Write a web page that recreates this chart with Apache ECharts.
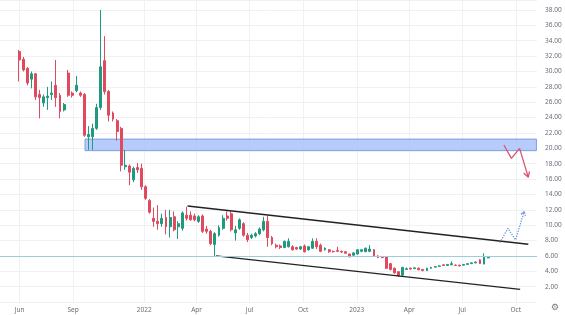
<!DOCTYPE html>
<html><head><meta charset="utf-8">
<script src="https://cdn.jsdelivr.net/npm/echarts@6/dist/echarts.min.js"></script>
<style>html,body{margin:0;padding:0;background:#fff}#c{width:565px;height:315px}</style>
</head><body><div id="c"></div>
<script>
// weekly candles starting Monday 2021-05-31
const firstWeek = [2021, 4, 31];
const opens = [
32.6,31.6,30.4,29.0,29.7,27.0,25.9,26.6,27.0,28.2,
26.9,25.0,29.8,27.2,27.5,27.2,27.0,21.5,21.5,22.6,
25.3,31.4,27.4,24.6,23.6,22.6,17.6,17.7,15.9,17.5,
17.4,15.0,13.2,10.9,10.5,10.2,11.0,9.8,11.1,9.8,
9.6,11.3,11.3,11.2,10.5,11.2,9.5,9.2,7.5,8.7,
9.6,11.2,11.5,9.0,9.6,10.2,8.7,8.4,8.6,8.9,
9.4,10.5,8.4,7.4,7.3,7.1,7.2,7.2,7.1,6.9,
7.3,6.8,7.0,7.9,7.4,6.8,6.8,6.6,6.7,6.6,
6.55,6.25,6.1,6.25,6.6,6.55,6.6,6.8,6.0,5.9,
5.9,5.0,4.4,3.95,3.5,4.25,4.4,4.35,4.4,4.25,
4.1,4.4,4.55,4.65,4.85,4.75,4.85,4.8,4.8,4.8,
4.9,5.0,5.1,5.5,4.95,5.75];
const closes = [
31.5,30.2,28.5,29.7,26.7,26.6,26.7,26.8,27.2,26.6,
24.8,25.7,26.9,26.9,28.2,26.9,21.7,21.8,22.6,25.3,
30.6,27.4,24.3,23.8,22.2,17.8,17.8,16.9,17.4,17.2,
15.0,13.5,11.7,10.5,10.2,10.9,9.8,11.0,9.4,10.2,
11.6,10.9,10.7,10.7,11.1,9.2,9.2,7.6,8.9,9.7,
10.9,10.9,9.4,9.4,10.7,8.7,8.1,8.7,8.9,9.5,
10.5,8.4,7.6,7.2,7.1,7.9,7.9,6.8,6.9,7.2,
6.55,7.2,7.9,7.2,6.6,7.0,6.55,6.55,6.6,6.5,
6.35,5.9,6.4,6.8,6.8,7.0,6.9,6.0,5.8,5.8,
4.4,4.25,3.8,3.4,4.5,4.35,4.3,4.45,4.2,4.1,
4.4,4.5,4.6,4.7,4.75,4.9,5.0,4.75,4.7,4.9,
5.0,5.1,5.2,5.0,5.9,5.9];
const lows = [
28.7,30.0,28.2,27.8,26.3,23.9,25.4,25.0,26.3,25.4,
23.9,24.8,26.7,26.6,27.3,26.7,21.5,19.8,19.8,22.4,
25.0,27.0,23.5,23.5,21.0,17.0,17.2,15.2,15.6,16.8,
14.6,13.3,11.5,9.8,9.4,9.8,8.8,8.4,9.2,8.2,
9.3,10.6,10.6,10.5,10.3,9.0,8.9,7.4,6.0,8.5,
9.4,10.6,9.2,8.0,9.4,8.5,7.8,8.2,8.4,8.7,
9.2,7.2,7.4,7.0,6.9,7.0,7.1,6.7,6.8,6.8,
6.45,6.7,6.9,6.9,6.5,6.7,6.4,6.45,6.5,6.4,
6.3,5.8,6.0,6.2,6.5,6.5,6.5,5.9,5.7,5.7,
4.3,4.1,3.7,3.3,3.4,4.2,4.2,4.3,4.15,4.0,
4.05,4.35,4.5,4.6,4.7,4.7,4.8,4.7,4.65,4.75,
4.85,4.95,5.05,4.95,4.9,5.7];
const highs = [
32.8,31.9,30.6,30.0,29.8,27.6,27.0,28.0,28.7,31.5,
27.2,25.9,30.2,27.4,29.4,27.4,27.2,22.9,23.2,25.8,
38.0,34.6,27.6,24.8,23.8,22.8,19.8,17.9,17.6,18.1,
18.0,15.2,13.4,12.3,12.6,11.5,12.0,12.0,11.8,10.5,
11.8,12.4,11.8,11.5,11.3,11.4,9.9,9.4,9.1,10.0,
11.3,11.8,11.8,9.9,10.9,10.4,9.0,8.9,9.1,9.7,
11.1,11.2,8.6,7.6,7.5,8.0,8.3,7.4,7.2,7.3,
7.5,7.3,8.3,8.3,7.6,7.1,6.9,6.7,7.2,6.7,
6.6,6.3,6.5,6.9,6.9,7.1,7.4,6.9,6.1,6.0,
6.0,5.1,4.5,4.0,4.6,4.5,4.5,4.5,4.5,4.3,
4.45,4.6,4.7,4.8,4.9,4.95,5.3,4.9,4.85,4.95,
5.05,5.15,5.3,5.6,6.35,5.95];

const tickDates = ['2021-06-01','2021-09-01','2022-01-01','2022-04-01','2022-07-01','2022-10-01','2023-01-01','2023-04-01','2023-07-01','2023-10-01'];
const tickNames = ['Jun','Sep','2022','Apr','Jul','Oct','2023','Apr','Jul','Oct'];

const zoneStart = '2021-09-21', zoneLow = 19.7, zoneHigh = 21.2;
const upperDates = ['2022-03-16','2023-10-22'], upperPrices = [12.5, 7.52];
const lowerDates = ['2022-05-04','2023-10-08'], lowerPrices = [6.0, 1.66];
const bearDates = ['2023-09-10','2023-09-23','2023-10-07','2023-10-22','2023-10-24','2023-10-22','2023-10-14'];
const bearPrices = [20.44, 18.7, 20.0, 16.23, 17.0, 16.23, 16.78];
const bullDates = ['2023-09-03','2023-09-17','2023-09-30','2023-10-15','2023-10-09','2023-10-15','2023-10-17'];
const bullPrices = [7.72, 9.6, 8.08, 11.78, 11.41, 11.78, 11.21];
const lastPrice = 5.95;
const xStart = '2021-04-28T12:00:00Z', xEnd = '2023-11-06T10:00:00Z';
const yMin = 0, yMax = 39.3, yStep = 2, yTopLabel = 38;

const T = s => Date.parse(s.length === 10 ? s + 'T12:00:00Z' : s);
const WEEK = 7 * 86400000;
const t0 = Date.UTC(firstWeek[0], firstWeek[1], firstWeek[2], 12);
const candles = opens.map((o, i) => [t0 + i * WEEK, o, closes[i], lows[i], highs[i]]);
const tickTimes = tickDates.map(d => Date.parse(d + 'T00:00:00Z'));
const pair = (ds, ps) => ds.map((d, i) => [T(d), ps[i]]);

const UP = '#1f9a80', DOWN = '#e04a5e';
const chart = echarts.init(document.getElementById('c'), null, {renderer: 'canvas'});
chart.setOption({
  animation: false,
  backgroundColor: '#ffffff',
  grid: {left: 0, right: 28, top: 0, bottom: 12.93, containLabel: false},
  xAxis: {
    type: 'value', min: T(xStart), max: T(xEnd), scale: true,
    axisLine: {show: false},
    axisTick: {show: false, customValues: tickTimes},
    axisLabel: {
      customValues: tickTimes, margin: 5, fontSize: 6.5, color: '#6a6d78',
      fontFamily: 'Noto Sans',
      formatter: v => { const k = tickTimes.findIndex(x => Math.abs(x - v) < 86400000); return k >= 0 ? tickNames[k] : ''; }
    },
    splitLine: {show: true, lineStyle: {color: '#eff1f5', width: 1}}
  },
  yAxis: {
    type: 'value', position: 'right', min: yMin, max: yMax, interval: yStep,
    axisLine: {show: false}, axisTick: {show: false},
    axisLabel: {margin: 8, fontSize: 6.5, color: '#6a6d78', fontFamily: 'Noto Sans',
      showMaxLabel: false,
      formatter: v => (v <= 0 || v > yTopLabel) ? '' : v.toFixed(2)},
    splitLine: {lineStyle: {color: '#eff1f5', width: 1}}
  },
  series: [
    {
      type: 'candlestick', data: candles, encode: {x: 0, y: [1, 2, 3, 4]},
      barWidth: 2.4,
      itemStyle: {color: UP, color0: DOWN, borderColor: UP, borderColor0: DOWN, borderColorDoji: UP, borderWidth: 1},
      markArea: {
        silent: true,
        itemStyle: {color: 'rgba(170,195,250,0.85)', borderColor: '#7d9de0', borderWidth: 1},
        data: [[{xAxis: T(zoneStart), yAxis: zoneHigh}, {xAxis: T(xEnd) - 86400000, yAxis: zoneLow}]]
      },
      markLine: {
        silent: true, symbol: ['none', 'none'], label: {show: false},
        lineStyle: {color: '#9fcbe0', width: 1, type: 'solid', opacity: 1},
        data: [{yAxis: lastPrice, lineStyle: {color: '#9fcbe0', width: 1, type: 'solid'}}]
      },
      z: 3
    },
    {type: 'line', data: pair(upperDates, upperPrices), symbol: 'none', lineStyle: {color: '#222', width: 1.3}, z: 4},
    {type: 'line', data: pair(lowerDates, lowerPrices), symbol: 'none', lineStyle: {color: '#222', width: 1.3}, z: 4},
    {type: 'line', data: pair(bearDates, bearPrices), symbol: 'none', lineStyle: {color: '#d9566c', width: 1.3}, z: 4},
    {type: 'line', data: pair(bullDates, bullPrices), symbol: 'none', lineStyle: {color: '#6b93d8', width: 1.3, type: 'dotted'}, z: 4}
  ],
  graphic: [{type: 'text', left: 551, top: 303, style: {text: '⚙', fontSize: 9, fill: '#777', fontFamily: 'DejaVu Sans'}}]
});
</script></body></html>
